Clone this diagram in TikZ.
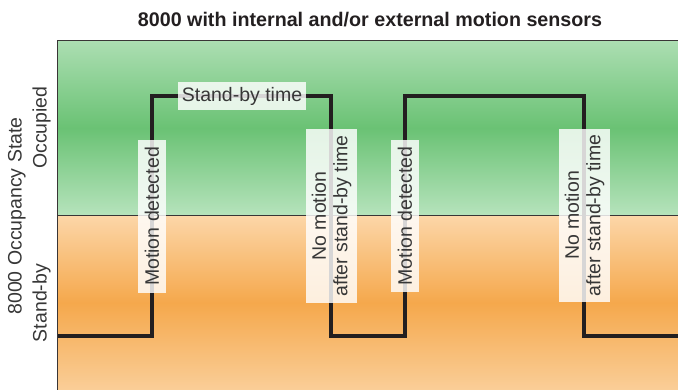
\documentclass[tikz,border=0pt]{standalone}
\usepackage{fontspec}
\setmainfont{Liberation Sans}
\definecolor{txt}{RGB}{55,55,55}
\definecolor{sig}{RGB}{35,31,32}
\definecolor{gtop}{RGB}{172,222,178}
\definecolor{gmid}{RGB}{106,194,116}
\definecolor{gbot}{RGB}{182,227,188}
\definecolor{otop}{RGB}{252,214,168}
\definecolor{omid}{RGB}{245,168,76}
\definecolor{obot}{RGB}{250,206,152}
\begin{document}
\begin{tikzpicture}[x=1pt,y=-1pt,
  lbl/.style={font=\fontsize{19.5}{21.5}\selectfont, text=txt},
  tag/.style={lbl, fill=white, fill opacity=0.82, text opacity=1, inner sep=0pt, align=center},
  vtag/.style={tag, rotate=90},
  border/.style={draw=sig!90, line width=1.3pt},
  signal/.style={draw=sig, line width=4pt, line join=miter}
]
\useasboundingbox (0,0) rectangle (678,390);
% backgrounds
\shade[top color=gtop, bottom color=gbot, middle color=gmid] (58,40.5) rectangle (678,215.5);
\shade[top color=otop, bottom color=obot, middle color=omid] (58,215.5) rectangle (678,390);
% borders
\coordinate (tl) at (57.5,40.5);
\coordinate (tr) at (678,40.5);
\coordinate (bl) at (57.5,390);
\coordinate (ml) at (57.5,215.5);
\coordinate (mr) at (678,215.5);
\draw[border] (tr) -- (tl) -- (bl);
\draw[border] (ml) -- (mr);
% title
\node[font=\bfseries\fontsize{19.7}{22}\selectfont, text=sig, anchor=base] (title) at (370,26.5) {8000 with internal and/or external motion sensors};
% axis labels
\node[lbl, rotate=90, anchor=base] (axis) at (21.5,216) {8000 Occupancy State};
\node[lbl, rotate=90, anchor=base] (occ) at (46.5,127.5) {Occupied};
\node[lbl, rotate=90, anchor=base] (stb) at (46.5,303) {Stand-by};
% signal
\coordinate (s0) at (58,336);
\coordinate (s1) at (152,336);
\coordinate (s2) at (152,96);
\coordinate (s3) at (331,96);
\coordinate (s4) at (331,336);
\coordinate (s5) at (405,336);
\coordinate (s6) at (405,96);
\coordinate (s7) at (584,96);
\coordinate (s8) at (584,336);
\coordinate (s9) at (678,336);
\draw[signal] (s0) -- (s1) -- (s2) -- (s3) -- (s4) -- (s5) -- (s6) -- (s7) -- (s8) -- (s9);
% tags
\node[tag, minimum width=128pt, minimum height=28pt] (sbt) at (242,96) {Stand-by time};
\node[vtag, minimum width=153pt, minimum height=28pt] (md1) at (152,216.5) {Motion detected};
\node[vtag, minimum width=174pt, minimum height=51pt] (nm1) at (331.5,216) {No motion\\after stand-by time};
\node[vtag, minimum width=152pt, minimum height=28pt] (md2) at (405,216) {Motion detected};
\node[vtag, minimum width=173pt, minimum height=51pt] (nm2) at (584.5,215.5) {No motion\\after stand-by time};
\end{tikzpicture}
\end{document}
